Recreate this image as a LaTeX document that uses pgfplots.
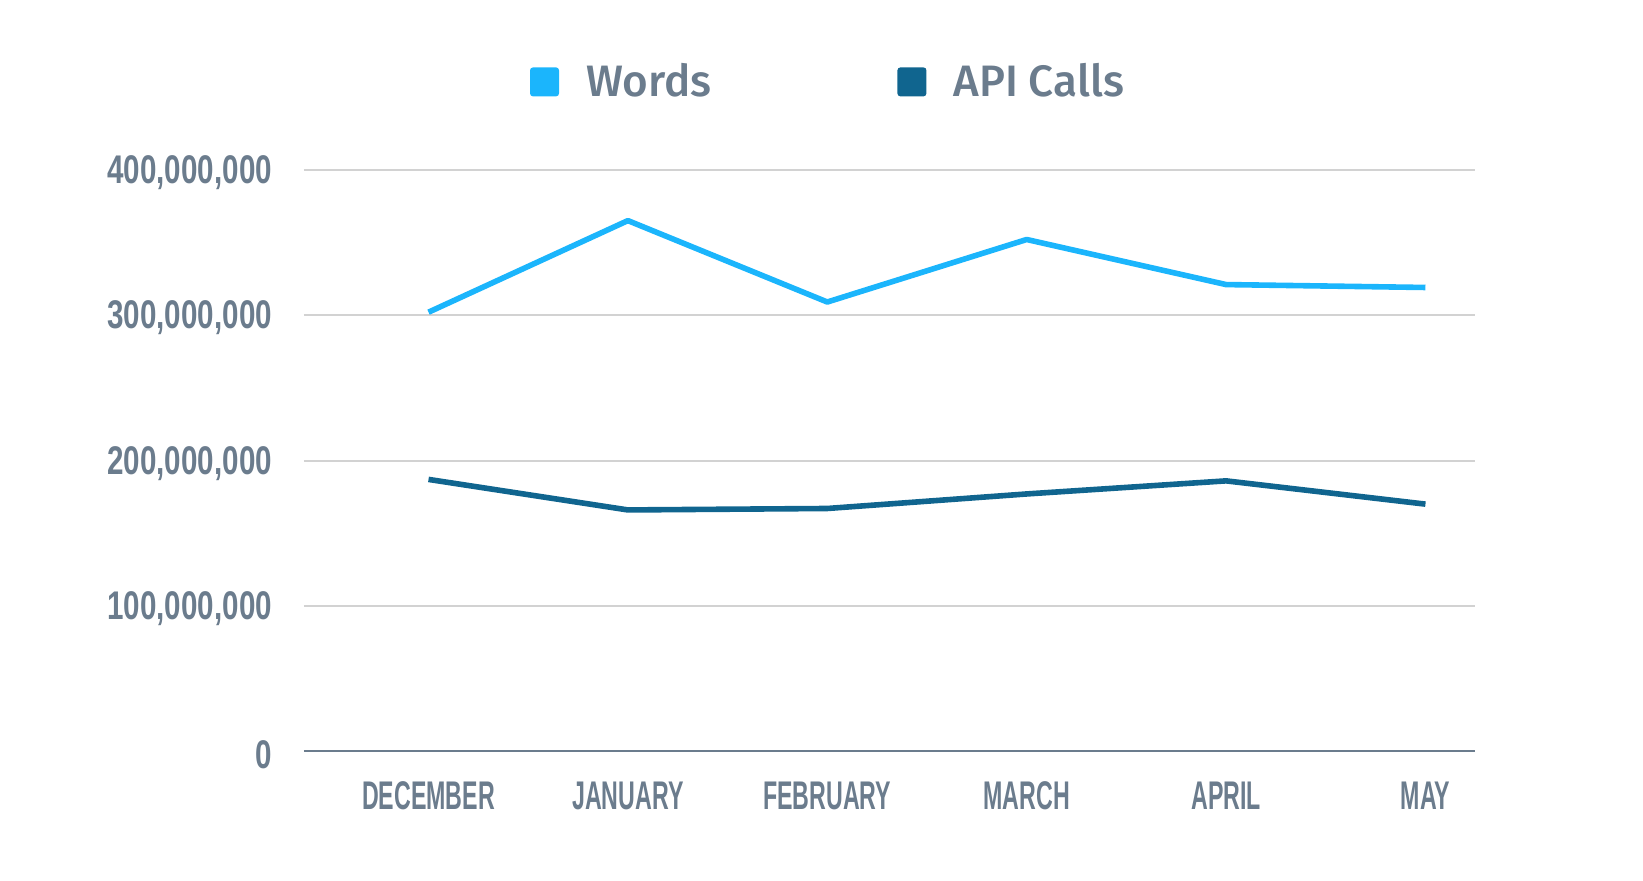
\documentclass[border=0pt]{standalone}
\usepackage{fontspec}
\usepackage{pgfplots}
\pgfplotsset{compat=1.18}
\newfontfamily\tickfont[FakeStretch=0.74]{Liberation Sans Bold}
\newfontfamily\monthfont[FakeStretch=0.58]{Liberation Sans Bold}
\newfontfamily\legfont{Fira Sans Medium}
\definecolor{txt}{HTML}{6B7C8D}
\definecolor{words}{HTML}{1BB5FC}
\definecolor{api}{HTML}{10658F}
\definecolor{gridc}{HTML}{D2D2D2}
\begin{document}
\begin{tikzpicture}
\useasboundingbox (0,0) rectangle (821.5pt,440pt);
\begin{axis}[
  at={(151.95pt,64.35pt)}, anchor=south west,
  scale only axis, width=585.7pt, height=290.8pt,
  xmin=-0.625, xmax=5.25, ymin=0, ymax=4e8,
  axis line style={draw=none},
  major tick length=0pt,
  xtick={0,1,2,3,4,5},
  xticklabels={DECEMBER,JANUARY,FEBRUARY,MARCH,APRIL,MAY},
  xticklabel style={font=\monthfont\fontsize{20}{20}\selectfont, text=txt, inner sep=0pt, anchor=north, yshift=-15pt},
  ytick={1e8,2e8,3e8,4e8},
  yticklabels={{100,000,000},{200,000,000},{300,000,000},{400,000,000}},
  extra y ticks={0},
  extra y tick labels={0},
  extra y tick style={grid style={color=txt, line width=1pt}},
  yticklabel style={font=\tickfont\fontsize{20}{20}\selectfont, text=txt, inner sep=0pt, anchor=east, xshift=-15.75pt, yshift=-1.5pt},
  ymajorgrids,
  grid style={color=gridc, line width=1pt},
  scaled y ticks=false,
  clip=false,
  legend columns=2,
  legend style={at={(0.4466,1.151)}, anchor=center, draw=none, fill=none,
    font=\legfont\fontsize{22}{22}\selectfont, text=txt,
    nodes={inner sep=0pt},
    /tikz/every even column/.append style={column sep=93pt}},
  legend image code/.code={\fill[#1, draw=none, rounded corners=1.5pt] (0pt,-7.25pt) rectangle (14.5pt,7.25pt); \path[draw=none, fill=none] (0pt,0pt) -- (28pt,0pt);},
]
\addplot[words, line width=2.8pt, line join=round, legend image post style={draw=none, fill=words}] coordinates {
 (0,302e6) (1,365e6) (2,309e6) (3,352e6) (4,321e6) (5,319e6)};
\addlegendentry{Words}
\addplot[api, line width=2.8pt, line join=round, legend image post style={draw=none, fill=api}] coordinates {
 (0,187e6) (1,166e6) (2,167e6) (3,177e6) (4,186e6) (5,170e6)};
\addlegendentry{API Calls}
\end{axis}
\end{tikzpicture}
\end{document}
